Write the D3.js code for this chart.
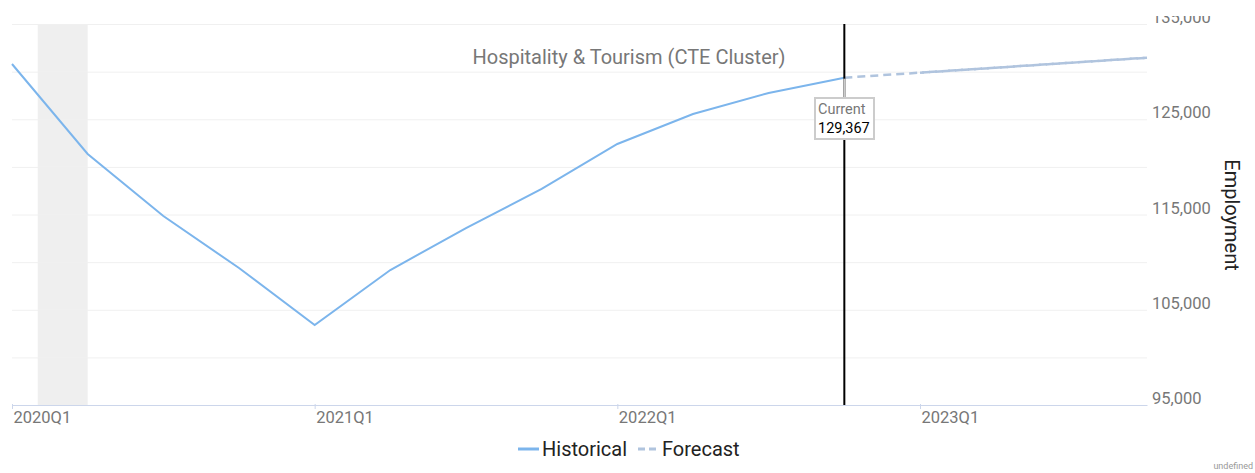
<!DOCTYPE html>
<html>
<head>
<meta charset="utf-8">
<script src="https://cdn.jsdelivr.net/npm/d3@7"></script>
<style>
  body { margin: 0; background: #fff; font-family: Roboto, "Noto Sans", sans-serif; }
  svg { display: block; }
</style>
</head>
<body>
<svg id="chart" width="1255" height="473"></svg>
<script>
const quarters = ['2020Q1', '2020Q2', '2020Q3', '2020Q4', '2021Q1', '2021Q2', '2021Q3', '2021Q4',
  '2022Q1', '2022Q2', '2022Q3', '2022Q4', '2023Q1', '2023Q2', '2023Q3', '2023Q4']
const historical = [130800, 121350, 114840, 109380, 103400, 109170, 113580, 117680,
  122400, 125550, 127760, 129367]
const forecast = [129367, 129890, 130410, 130940, 131460]
const forecastStart = 11
const currentIndex = 11
const currentValue = 129367
const band = [0.34, 1.0]
const yTicks = [95000, 105000, 115000, 125000, 135000]
const yGrid = [95000, 100000, 105000, 110000, 115000, 120000, 125000, 130000, 135000]
const xTickLabels = ['2020Q1', '2021Q1', '2022Q1', '2023Q1']

const svg = d3.select('#chart')
const plotLeft = 12, plotRight = 1147, plotTop = 24, plotBottom = 405

const x = d3.scaleLinear().domain([0, quarters.length - 1]).range([plotLeft, plotRight])
const y = d3.scaleLinear().domain([95000, 135000]).range([plotBottom, plotTop])
const fmt = d3.format(',')

// the top axis label is cut off by the chart container
svg.append('clipPath')
  .attr('id', 'label-clip')
  .append('rect')
  .attr('x', 1140).attr('y', 16)
  .attr('width', 115).attr('height', 457)

// recession band
svg.append('rect')
  .attr('x', x(band[0]))
  .attr('y', plotTop)
  .attr('width', x(band[1]) - x(band[0]))
  .attr('height', plotBottom - plotTop)
  .attr('fill', '#efefef')

// gridlines
svg.append('g')
  .selectAll('line')
  .data(yGrid)
  .join('line')
  .attr('x1', plotLeft).attr('x2', plotRight)
  .attr('y1', (d) => y(d) + 0.5).attr('y2', (d) => y(d) + 0.5)
  .attr('stroke', '#f0f0f0')
  .attr('stroke-width', 1)

// y labels (right side)
svg.append('g')
  .attr('clip-path', 'url(#label-clip)')
  .selectAll('text')
  .data(yTicks)
  .join('text')
  .attr('x', 1152)
  .attr('y', (d) => y(d) - 1)
  .attr('fill', '#777')
  .style('font-size', '16.5px')
  .text((d) => fmt(d))

// y axis title
svg.append('text')
  .attr('transform', 'translate(1225,215) rotate(90)')
  .attr('text-anchor', 'middle')
  .attr('fill', '#222')
  .style('font-size', '20px')
  .text('Employment')

// x axis
const xAxis = d3.axisBottom(x)
  .tickValues(xTickLabels.map((q) => quarters.indexOf(q)))
  .tickFormat((d) => quarters[d])
  .tickSize(4)
  .tickSizeOuter(0)
const gx = svg.append('g')
  .attr('transform', `translate(0,${plotBottom})`)
  .call(xAxis)
gx.select('.domain').attr('stroke', '#ccd6eb')
gx.selectAll('.tick line').attr('stroke', '#ccd6eb').attr('y1', -1).attr('y2', 4)
gx.selectAll('.tick text')
  .attr('text-anchor', 'start')
  .attr('x', 1)
  .attr('y', 6)
  .attr('dy', '0.71em')
  .attr('fill', '#777')
  .style('font-size', '16.5px')
  .style('font-family', 'Roboto, sans-serif')

// title
svg.append('text')
  .attr('x', 629)
  .attr('y', 64)
  .attr('text-anchor', 'middle')
  .attr('fill', '#777')
  .style('font-size', '20px')
  .text('Hospitality & Tourism (CTE Cluster)')

const line = d3.line().x((d) => x(d[0])).y((d) => y(d[1]))

// historical
svg.append('path')
  .datum(historical.map((v, i) => [i, v]))
  .attr('d', line)
  .attr('fill', 'none')
  .attr('stroke', '#7cb5ec')
  .attr('stroke-width', 2)

// forecast
const fc = forecast.map((v, i) => [forecastStart + i, v])
svg.append('path')
  .datum(fc)
  .attr('d', line)
  .attr('fill', 'none')
  .attr('stroke', '#b0c4de')
  .attr('stroke-width', 2.5)
  .attr('stroke-dasharray', '8,5')
svg.append('path')
  .datum(fc.slice(1))
  .attr('d', line)
  .attr('fill', 'none')
  .attr('stroke', '#b0c4de')
  .attr('stroke-width', 2.5)
  .attr('stroke-dasharray', '8,5')
  .attr('stroke-dashoffset', 4)

// current marker
const cx = x(currentIndex)
svg.append('line')
  .attr('x1', cx).attr('x2', cx)
  .attr('y1', plotTop).attr('y2', plotBottom)
  .attr('stroke', '#000')
  .attr('stroke-width', 2)
svg.append('line')
  .attr('x1', cx).attr('x2', cx)
  .attr('y1', y(currentValue) + 1).attr('y2', 98)
  .attr('stroke', '#ccc')
  .attr('stroke-width', 2)
svg.append('rect')
  .attr('x', 815).attr('y', 98)
  .attr('width', 59).attr('height', 41)
  .attr('fill', '#fff')
  .attr('stroke', '#ccc')
  .attr('stroke-width', 2)
svg.append('text')
  .attr('x', 818).attr('y', 114)
  .attr('fill', '#777')
  .style('font-size', '14.5px')
  .text('Current')
svg.append('text')
  .attr('x', 818).attr('y', 133)
  .attr('fill', '#000')
  .style('font-size', '14.5px')
  .text(fmt(currentValue))

// legend
const legend = svg.append('g')
legend.append('line')
  .attr('x1', 518).attr('x2', 539).attr('y1', 449).attr('y2', 449)
  .attr('stroke', '#7cb5ec').attr('stroke-width', 3)
legend.append('text')
  .attr('x', 542).attr('y', 455.5)
  .attr('fill', '#222')
  .style('font-size', '20px')
  .text('Historical')
legend.append('line')
  .attr('x1', 638).attr('x2', 657).attr('y1', 449).attr('y2', 449)
  .attr('stroke', '#b0c4de').attr('stroke-width', 3)
  .attr('stroke-dasharray', '7,4')
legend.append('text')
  .attr('x', 662).attr('y', 455.5)
  .attr('fill', '#222')
  .style('font-size', '20px')
  .text('Forecast')

svg.append('text')
  .attr('x', 1253).attr('y', 469)
  .attr('text-anchor', 'end')
  .attr('fill', '#999')
  .style('font-size', '9px')
  .text('undefined')
</script>
</body>
</html>
